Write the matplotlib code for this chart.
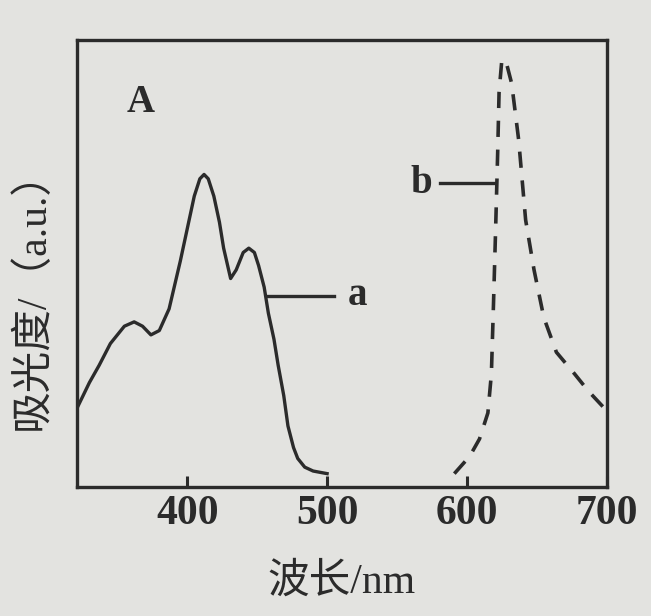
import matplotlib
matplotlib.use("Agg")
import matplotlib.pyplot as plt

# Data (absorbance in arbitrary units, 0..1 of the frame)

wl_a = [321, 330, 337, 345, 355, 362, 368, 374, 380, 387, 395, 401, 405, 409,
        412, 415, 419, 423, 426, 431, 435, 440, 444, 448, 451, 455, 458, 462,
        465, 469, 472, 476, 479, 484, 490, 500]
abs_a = [0.15, 0.21, 0.25, 0.30, 0.34, 0.35, 0.34, 0.32, 0.33, 0.38, 0.49, 0.58,
         0.64, 0.68, 0.69, 0.68, 0.64, 0.58, 0.52, 0.45, 0.47, 0.51, 0.52, 0.51,
         0.48, 0.43, 0.37, 0.31, 0.25, 0.18, 0.11, 0.06, 0.035, 0.015, 0.006, 0.0]

wl_b = [591, 602, 609, 615, 617.5, 619, 620.5, 622, 623, 625, 628, 632, 637,
        642, 648, 655, 664, 677, 687, 700]
abs_b = [0.0, 0.04, 0.08, 0.14, 0.23, 0.39, 0.56, 0.74, 0.88, 0.955, 0.95, 0.90,
         0.77, 0.585, 0.47, 0.36, 0.28, 0.23, 0.19, 0.145]

xticks = [400, 500, 600, 700]

ink = "#2b2b2b"
serif_cjk = ["Liberation Serif", "Noto Sans CJK SC"]

fig = plt.figure(figsize=(6.51, 6.16), dpi=100, facecolor="#e3e3e0")
ax = fig.add_axes([0.118, 0.21, 0.814, 0.725])
ax.set_facecolor("#e3e3e0")

ax.plot(wl_a, abs_a, color=ink, lw=2.4, solid_joinstyle="round")
ax.plot(wl_b, abs_b, color=ink, lw=2.6, linestyle=(0, (4.5, 3.5)))

ax.set_xlim(321, 700)
ax.set_ylim(-0.03, 1.0)

for s in ax.spines.values():
    s.set_color(ink)
    s.set_linewidth(2.4)

ax.set_xticks(xticks)
ax.set_xticklabels([str(t) for t in xticks], fontfamily="Liberation Serif",
                   fontsize=30, fontweight="bold")
ax.tick_params(axis="x", direction="in", length=8, width=2.2, color=ink,
               labelcolor=ink, pad=6)
ax.set_yticks([])

ax.set_xlabel("波长/nm", fontfamily=serif_cjk, fontsize=30, color=ink, labelpad=22)
ax.set_ylabel("吸光度/（a.u.）", fontfamily=serif_cjk, fontsize=30, color=ink)
ax.yaxis.set_label_coords(-0.045, 0.44)

# panel letter and curve labels
ax.text(0.12, 0.86, "A", transform=ax.transAxes, fontfamily="Liberation Serif",
        fontsize=28, color=ink, ha="center", va="center", fontweight="bold")
ax.plot([458, 505], [0.41, 0.41], color=ink, lw=2.4)
ax.text(515, 0.41, "a", fontfamily="Liberation Serif", fontsize=28, color=ink,
        ha="left", va="center", fontweight="bold")
ax.plot([581, 620], [0.67, 0.67], color=ink, lw=2.4)
ax.text(575, 0.67, "b", fontfamily="Liberation Serif", fontsize=28, color=ink,
        ha="right", va="center", fontweight="bold")

fig.savefig("out.png", dpi=100, facecolor=fig.get_facecolor())
